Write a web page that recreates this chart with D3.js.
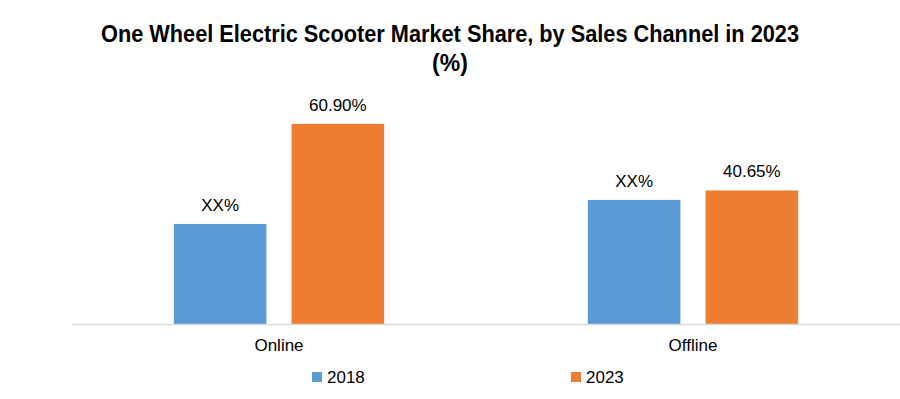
<!DOCTYPE html>
<html>
<head>
<meta charset="utf-8">
<script src="https://cdn.jsdelivr.net/npm/d3@7"></script>
<style>
    body { margin: 0; background: #fff; }
    text { font-family: "Liberation Sans", Arial, sans-serif; fill: #000; }
</style>
</head>
<body>
<script>
// Chart data
var categories = ["Online", "Offline"];
var series = ["2018", "2023"];
var values2018 = [30.45, 37.76];
var values2023 = [60.90, 40.65];
var labels2018 = ["XX%", "XX%"];
var labels2023 = ["60.90%", "40.65%"];
var colors = ["#5B9BD5", "#ED7D31"];

var width = 900, height = 399;

var svg = d3.select("body").append("svg")
    .attr("width", width)
    .attr("height", height);

// Title, two lines
var title = svg.append("g")
    .attr("font-weight", "bold")
    .attr("text-anchor", "middle");
title.append("text")
    .attr("x", 450)
    .attr("y", 42)
    .attr("font-size", 24)
    .attr("textLength", 698)
    .attr("lengthAdjust", "spacingAndGlyphs")
    .text("One Wheel Electric Scooter Market Share, by Sales Channel in 2023");
title.append("text")
    .attr("x", 450)
    .attr("y", 71)
    .attr("font-size", 23)
    .text("(%)");

// Scales
var x0 = d3.scaleBand()
    .domain(categories)
    .range([72, 900])
    .paddingInner(0.492)
    .paddingOuter(0.246);

var x1 = d3.scaleBand()
    .domain(series)
    .range([0, x0.bandwidth()])
    .paddingInner(0.214);

var y = d3.scaleLinear()
    .domain([0, 70])
    .range([324, 94]);

// Rows of data per category
var rows = categories.map(function(c, i) {
    return [
        {key: series[0], value: values2018[i], label: labels2018[i]},
        {key: series[1], value: values2023[i], label: labels2023[i]}
    ];
});

var groups = svg.selectAll("g.cat")
    .data(rows)
    .enter().append("g")
    .attr("class", "cat")
    .attr("transform", function(d, i) {
        return "translate(" + x0(categories[i]) + ",0)";
    });

groups.selectAll("rect")
    .data(function(d) { return d; })
    .enter().append("rect")
    .attr("x", function(d) { return x1(d.key); })
    .attr("y", function(d) { return y(d.value); })
    .attr("width", x1.bandwidth())
    .attr("height", function(d) { return y(0) - y(d.value); })
    .attr("fill", function(d, i) { return colors[i]; });

// Value labels above the bars
groups.selectAll("text.val")
    .data(function(d) { return d; })
    .enter().append("text")
    .attr("class", "val")
    .attr("x", function(d) { return x1(d.key) + x1.bandwidth() / 2; })
    .attr("y", function(d) { return y(d.value) - 13; })
    .attr("text-anchor", "middle")
    .attr("font-size", 17)
    .text(function(d) { return d.label; });

// X axis: only baseline and category labels
var xAxis = svg.append("g")
    .attr("transform", "translate(0," + y(0) + ")")
    .call(d3.axisBottom(x0).tickSize(0).tickPadding(15));
xAxis.select(".domain").attr("stroke", "#d9d9d9").attr("stroke-width", 1.3);
xAxis.selectAll("text")
    .attr("font-size", 17)
    .attr("font-family", "Liberation Sans, Arial, sans-serif")
    .attr("fill", "#000");

// Legend
var legendX = [312, 571];
var legend = svg.selectAll("g.legend")
    .data(series)
    .enter().append("g")
    .attr("class", "legend")
    .attr("transform", function(d, i) {
        return "translate(" + legendX[i] + ",372)";
    });
legend.append("rect")
    .attr("width", 10)
    .attr("height", 10)
    .attr("fill", function(d, i) { return colors[i]; });
legend.append("text")
    .attr("x", 15)
    .attr("y", 11)
    .attr("font-size", 17)
    .text(function(d) { return d; });
</script>
</body>
</html>
